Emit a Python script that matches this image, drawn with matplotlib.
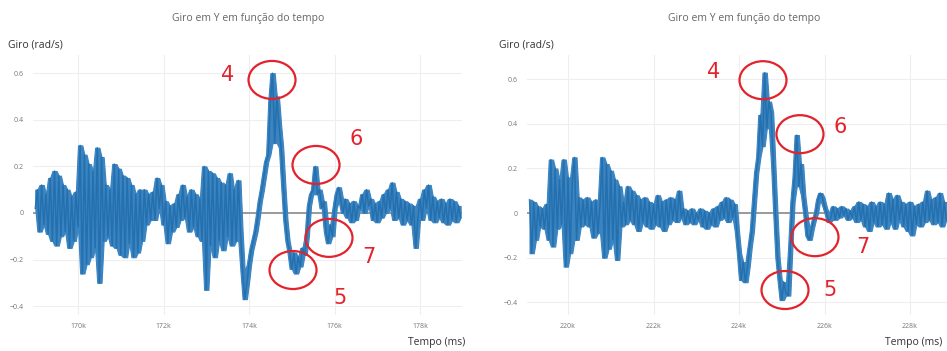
import numpy as np
import matplotlib.pyplot as plt
from matplotlib.patches import Ellipse
from matplotlib.ticker import FuncFormatter, FixedLocator

plt.rcParams['font.family'] = ['Open Sans', 'DejaVu Sans']

# giro em Y, amostras a cada 50 ms
step = 50
start_a = 169000
giro_a = [
    0.02, 0.10, -0.08, 0.12, -0.05, 0.08, -0.09,
    0.15, -0.12, 0.18, -0.14, 0.16, -0.10,
    0.12, -0.08, 0.10, -0.15, 0.07, -0.12, 0.09, -0.06,
    0.29, -0.26, 0.25, -0.22,
    0.21, -0.19, 0.18, -0.15,
    0.28, -0.30, 0.24,
    -0.12, 0.12, -0.10, 0.10, -0.14,
    0.21, -0.15, 0.19, -0.18, 0.16, -0.19, 0.15, -0.13,
    0.12, -0.19, 0.08, -0.17, 0.10, -0.12,
    0.10, -0.05, 0.08, -0.03, 0.09,
    -0.03, 0.15, 0.02, 0.12,
    -0.05, 0.05, -0.13, 0.03, -0.08, 0.04, -0.06,
    0.08, -0.03, 0.12, -0.02, 0.07,
    -0.08, 0.10, -0.06, 0.08, -0.10, 0.06,
    -0.12, 0.20, -0.33, 0.18,
    -0.14, 0.17, -0.19, 0.15, -0.12, 0.13, -0.16, 0.12,
    -0.10, 0.17, -0.14, 0.10, -0.12, 0.14, -0.08,
    -0.25, -0.37, -0.30,
    -0.22, -0.16, -0.12, -0.08,
    -0.02, 0.05, 0.10, 0.16, 0.22,
    0.25, 0.48, 0.60, 0.30, 0.50, 0.38,
    0.28, 0.12, -0.03,
    -0.12, -0.17,
    -0.24, -0.17, -0.26, -0.19, -0.23, -0.15, -0.18, -0.10, 0.03,
    0.08, 0.10, 0.20, 0.08,
    0.10, 0.02, 0.05,
    -0.08, -0.13, -0.05, -0.10,
    0.02, 0.08, 0.11, 0.05,
    0.00, 0.06, -0.02, 0.04, -0.04, 0.05, -0.03, 0.03,
    0.02, 0.08, 0.00, 0.10,
    0.03, 0.06, -0.03, 0.04, -0.04, 0.05, -0.02, 0.08,
    0.00, 0.10, 0.02, 0.13, -0.03, 0.09,
    -0.02, 0.06, -0.05, 0.05, -0.03, 0.04,
    -0.05, 0.03, -0.15,
    -0.02, 0.06, -0.03, 0.10, 0.02, 0.12,
    -0.03, 0.07, -0.04, 0.05, -0.02, 0.06, -0.04, 0.04, -0.05, 0.06,
    -0.03, 0.05, -0.04, 0.03, -0.02,
]

start_b = 219100
giro_b = [
    0.06, -0.18, 0.05, -0.12,
    0.03, -0.06, 0.02, -0.07, 0.04,
    -0.12, 0.24, -0.15, 0.20,
    -0.07, 0.15, -0.05,
    0.24, -0.24,
    0.16, -0.18, 0.14,
    0.25, -0.12,
    0.07, -0.06, 0.06, -0.05, 0.07,
    -0.06, 0.05,
    -0.11, 0.06, -0.09, 0.04,
    0.25, -0.20, 0.22,
    -0.16, 0.19, -0.12,
    0.15, -0.21, 0.12,
    -0.06, 0.05, -0.05,
    0.12, -0.03, 0.10,
    -0.05, 0.08, -0.08, 0.06, -0.04, 0.07, -0.06, 0.05, -0.07, 0.04,
    -0.05, 0.08, -0.06, 0.05, -0.08, 0.06,
    -0.05, 0.07, -0.03, 0.06, -0.04, 0.10,
    -0.02, 0.02, -0.05, 0.01, -0.04, 0.02, -0.05, 0.00, -0.03, 0.02,
    -0.06, 0.01, -0.07, 0.00, -0.05, 0.02, -0.06, 0.03, -0.03,
    0.05, -0.02, 0.07, -0.04, 0.06, -0.02, 0.04,
    -0.08, -0.18, -0.30,
    -0.22, -0.31, -0.24,
    -0.15, -0.08, 0.05, 0.18,
    0.25, 0.44, 0.30,
    0.63, 0.38, 0.50,
    0.45, 0.22,
    0.00, -0.20,
    -0.30, -0.39,
    -0.31, -0.36,
    -0.37,
    -0.15, 0.05,
    0.16, 0.35,
    0.12, 0.22,
    0.08, 0.00,
    -0.10, -0.12,
    -0.07, -0.03, 0.00,
    0.06, 0.09, 0.07,
    0.03, 0.00, -0.04,
    -0.02, 0.03, -0.03, 0.02, -0.02, 0.03, -0.01, 0.02, -0.03, 0.01, -0.02, 0.03,
    -0.04, 0.05, -0.03, 0.04, -0.06, 0.03, -0.08, 0.05, -0.04, 0.03, -0.06, 0.05,
    -0.05, 0.04, -0.07, 0.09, -0.04, 0.06, -0.07, 0.08, -0.03,
    0.05, -0.06, 0.04, -0.08, 0.05, -0.10, 0.03, -0.05, 0.04,
    -0.06, 0.05, -0.04, 0.10, -0.03, 0.06, -0.05, 0.07, -0.04, 0.09, -0.06, 0.05, -0.03,
]

xticks_a = [170000, 172000, 174000, 176000, 178000]
xticks_b = [220000, 222000, 224000, 226000, 228000]
yticks = [-0.4, -0.2, 0, 0.2, 0.4, 0.6]

# marcacoes (numero, centro do circulo, posicao do numero)
marks = ['4', '6', '7', '5']
circ_a = [(174538, 0.571), (175567, 0.206), (175871, -0.107), (175029, -0.245)]
text_a = [(173508, 0.592), (176502, 0.318), (176806, -0.189), (176128, -0.365)]
circ_b = [(224561, 0.596), (225426, 0.354), (225777, -0.108), (225076, -0.345)]
text_b = [(223415, 0.632), (226362, 0.386), (226900, -0.152), (226128, -0.345)]

title = 'Giro em Y em função do tempo'
blue = '#3a84c1'
blue_dark = '#1f6aa8'
red = '#e3232c'

fig = plt.figure(figsize=(9.47, 3.51), dpi=100)
fig.patch.set_facecolor('white')

W, H = 947, 351


def px_axes(x0, x1, y0, y1):
    return fig.add_axes([x0 / W, 1 - y1 / H, (x1 - x0) / W, (y1 - y0) / H])


def k_fmt(v, pos):
    return f'{v / 1000:.0f}k'


def y_fmt(v, pos):
    if abs(v) < 1e-9:
        return '0'
    return f'{v:.1f}'.replace('-', '\u2212')


def band(vals):
    # faixa entre vizinhos, para parecer o traço denso do original
    g = np.array(vals)
    p = np.pad(g, 1, mode='edge')
    stack = np.vstack([p[:-2], p[1:-1], p[2:]])
    return stack.min(axis=0), stack.max(axis=0)


panels = [
    (px_axes(33, 462, 55, 315), start_a, giro_a, xticks_a, (168947, 178982), (-0.438, 0.678),
     circ_a, text_a, 233),
    (px_axes(527, 947, 55, 315), start_b, giro_b, xticks_b, (219041, 228865), (-0.457, 0.709),
     circ_b, text_b, 223),
]

for ax, t0, giro, xt, xl, yl, circ, txt, ppu in panels:
    t = t0 + step * np.arange(len(giro))
    lo, hi = band(giro)
    ax.axhline(0, color='#9a9a9a', lw=1.4, zorder=1)
    ax.fill_between(t, lo, hi, color=blue, lw=0.8, ec=blue, zorder=2)
    ax.plot(t, giro, color=blue_dark, lw=1.1, zorder=3, alpha=0.8)
    ax.set_xlim(*xl)
    ax.set_ylim(*yl)
    ax.xaxis.set_major_locator(FixedLocator(xt))
    ax.yaxis.set_major_locator(FixedLocator(yticks))
    ax.xaxis.set_major_formatter(FuncFormatter(k_fmt))
    ax.yaxis.set_major_formatter(FuncFormatter(y_fmt))
    ax.grid(True, color='#eeeeee', lw=0.8, zorder=0)
    ax.set_axisbelow(True)
    for s in ax.spines.values():
        s.set_visible(False)
    ax.tick_params(length=0, labelsize=5, colors='#777777', pad=7)
    ax.tick_params(axis='x', pad=6)
    for (cx, cy), (tx, ty), m in zip(circ, txt, marks):
        ax.add_patch(Ellipse((cx, cy), 47 * 23.39, 38 / ppu, fill=False,
                             ec=red, lw=1.6, zorder=5, clip_on=False))
        ax.text(tx, ty, m, color=red, fontsize=15, ha='center', va='center',
                family=['Liberation Sans Narrow', 'DejaVu Sans'], zorder=6)

# titulos e rotulos dos eixos
fig.text(248 / W, 1 - 19 / H, title, ha='center', va='center', fontsize=7.5, color='#666666')
fig.text(744 / W, 1 - 19 / H, title, ha='center', va='center', fontsize=7.5, color='#666666')
fig.text(8 / W, 1 - 45 / H, 'Giro (rad/s)', ha='left', va='center', fontsize=7.5, color='#333333')
fig.text(499 / W, 1 - 45 / H, 'Giro (rad/s)', ha='left', va='center', fontsize=7.5, color='#333333')
fig.text(465 / W, 1 - 343 / H, 'Tempo (ms)', ha='right', va='center', fontsize=7.5, color='#333333')
fig.text(942 / W, 1 - 343 / H, 'Tempo (ms)', ha='right', va='center', fontsize=7.5, color='#333333')

fig.savefig('out.png', dpi=100, facecolor='white')
